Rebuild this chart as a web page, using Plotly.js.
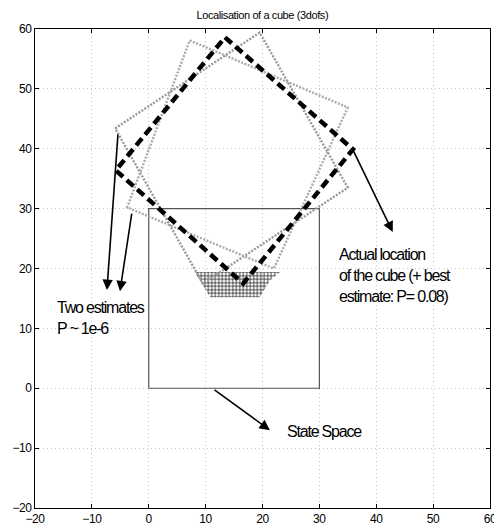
<!DOCTYPE html>
<html>
<head>
<meta charset="utf-8">
<script src="https://cdn.plot.ly/plotly-3.0.1.min.js"></script>
<style>
html,body{margin:0;padding:0;background:#fff;}
#chart{width:494px;height:529px;}
#chart .annotation-text{letter-spacing:-1.2px;}
#chart .xtick text,#chart .ytick text{letter-spacing:-0.4px;}
#chart .gtitle{letter-spacing:-0.4px;}
</style>
</head>
<body>
<div id="chart"></div>
<script>
// Actual location of the cube (thick dashed square)
const cubeX = [13.4, 35.9, 16.6, -5.8, 13.4];
const cubeY = [58.6, 39.9, 17.5, 36.4, 58.6];
// Estimate 1 (dotted square)
const est1X = [-5.9, 19.5, 35.0, 9.5, -5.9];
const est1Y = [43.4, 59.4, 33.5, 17.5, 43.4];
// Estimate 2 (dotted square)
const est2X = [7.2, 35.0, 22.0, -3.8, 7.2];
const est2Y = [58.1, 46.9, 20.0, 30.2, 58.1];
// State space boundary
const spaceX = [0, 30, 30, 0, 0];
const spaceY = [0, 0, 30, 30, 0];
// Hatched particle region outline
const hatchX = [8.1, 23.1, 21.3, 19.5, 10.8, 9.0, 8.1];
const hatchY = [19.4, 19.4, 18.0, 15.2, 15.2, 18.0, 19.4];
// Arrows: tail -> head
const arrowTailX = [-5.4, -2.95, 35.9, 11.3];
const arrowTailY = [42.6, 29.4, 39.8, -0.1];
const arrowHeadX = [-7.35, -5.06, 42.9, 21.3];
const arrowHeadY = [16.4, 16.2, 26.1, -7.0];
// Text labels
const labelText = ["Two estimates<br>P ~ 1e-6", "Actual location<br>of the cube (+ best<br>estimate: P= 0.08)", "State Space"];
const labelX = [-16.4, 33.1, 23.9];
const labelY = [11.7, 18.9, -7.3];
const tickVals = [-20, -10, 0, 10, 20, 30, 40, 50, 60];

const FONT = "'Liberation Sans', Arial, sans-serif";

const traces = [
  {x: spaceX, y: spaceY, mode: 'lines', line: {color: '#555', width: 1.2}, hoverinfo: 'skip'},
  {x: hatchX, y: hatchY, mode: 'lines', fill: 'toself', fillcolor: 'rgba(0,0,0,0)',
   fillpattern: {shape: '+', size: 3.5, solidity: 0.4, fgcolor: '#222', bgcolor: 'rgba(255,255,255,0)'},
   line: {width: 0}, hoverinfo: 'skip'},
  {x: est1X, y: est1Y, mode: 'lines', line: {color: '#999', width: 2.4, dash: '2px,1.5px'}, hoverinfo: 'skip'},
  {x: est2X, y: est2Y, mode: 'lines', line: {color: '#aaa', width: 2.4, dash: '2px,1.5px'}, hoverinfo: 'skip'},
  {x: cubeX, y: cubeY, mode: 'lines', line: {color: '#000', width: 4.5, dash: '9px,5px'}, hoverinfo: 'skip'}
];

const annotations = [];
for (let i = 0; i < arrowTailX.length; i++) {
  annotations.push({
    x: arrowHeadX[i], y: arrowHeadY[i], ax: arrowTailX[i], ay: arrowTailY[i],
    xref: 'x', yref: 'y', axref: 'x', ayref: 'y', text: '',
    showarrow: true, arrowhead: 2, arrowsize: 1.3, arrowwidth: 1.6, arrowcolor: '#000'
  });
}
for (let i = 0; i < labelText.length; i++) {
  annotations.push({
    x: labelX[i], y: labelY[i], xref: 'x', yref: 'y', text: labelText[i],
    showarrow: false, xanchor: 'left', yanchor: 'middle', align: 'left',
    font: {family: FONT, size: 16, color: '#000'}
  });
}

const axisCommon = {
  range: [-20, 60], tickvals: tickVals, ticks: 'inside', ticklen: 4, tickcolor: '#000',
  showline: true, linecolor: '#000', linewidth: 1, mirror: 'ticks',
  showgrid: true, gridcolor: '#c4c4c4', griddash: '1px,3px', gridwidth: 1,
  zeroline: false, tickfont: {family: FONT, size: 12, color: '#000'}, fixedrange: true,
  ticklabeloverflow: 'allow'
};

const layout = {
  width: 494, height: 529,
  margin: {l: 35, r: 4, t: 29, b: 21},
  paper_bgcolor: '#fff', plot_bgcolor: '#fff',
  showlegend: false,
  title: {text: 'Localisation of a cube (3dofs)', x: 0.531, xanchor: 'center', y: 0.972, yref: 'container', yanchor: 'middle',
          font: {family: FONT, size: 11, color: '#000'}},
  xaxis: Object.assign({}, axisCommon),
  yaxis: Object.assign({}, axisCommon),
  annotations: annotations
};

Plotly.newPlot('chart', traces, layout, {staticPlot: true, displayModeBar: false});
</script>
</body>
</html>
